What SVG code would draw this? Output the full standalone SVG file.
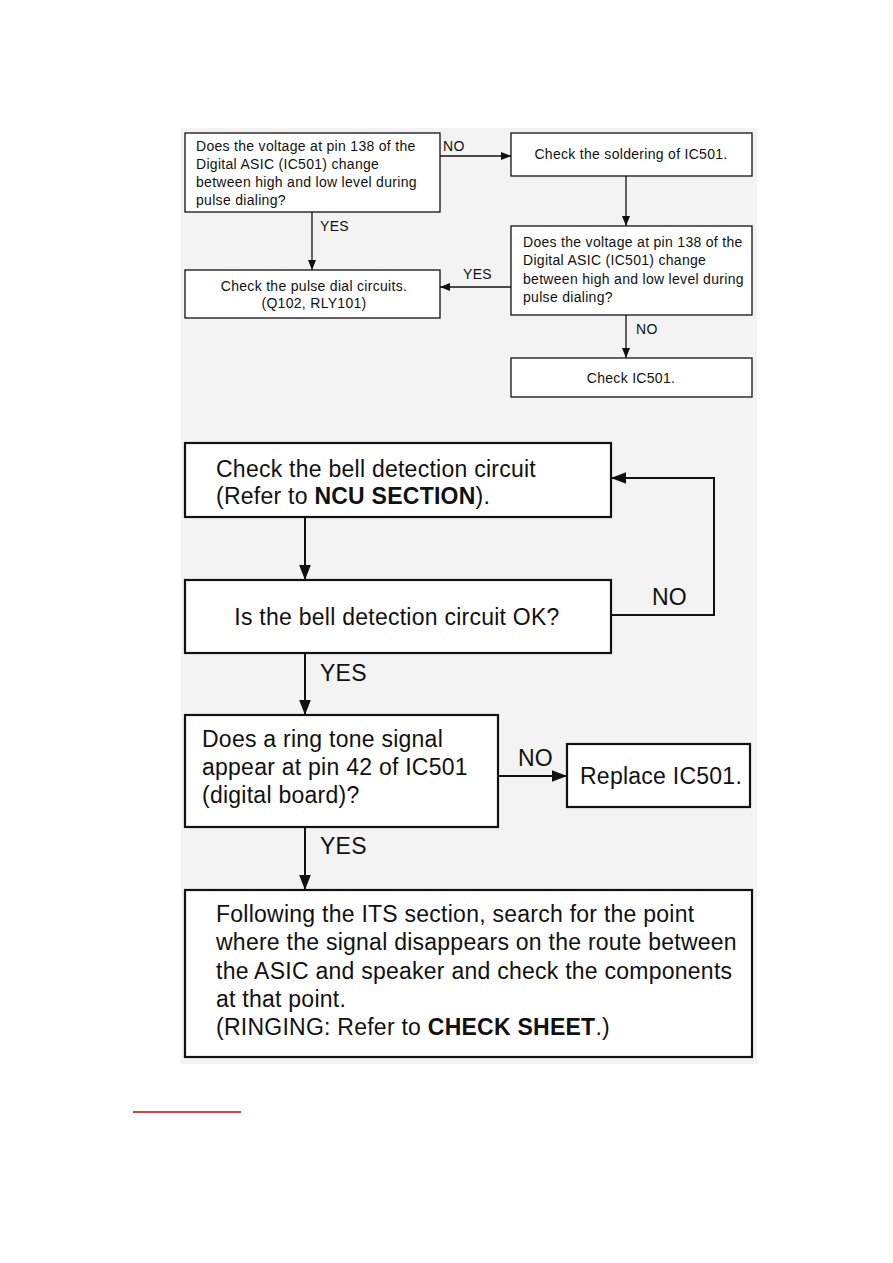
<svg xmlns="http://www.w3.org/2000/svg" width="893" height="1263" viewBox="0 0 893 1263">
<defs>
<style>
.bg{fill:#f3f3f3}
.s{fill:#fff;stroke:#111;stroke-width:1.3}
.b{fill:#fff;stroke:#111;stroke-width:2.2}
.t{font-family:"Liberation Sans",Arial,sans-serif;font-size:14px;letter-spacing:0.3px;fill:#111}
.T{font-family:"Liberation Sans",Arial,sans-serif;font-size:23px;letter-spacing:0.25px;fill:#111}
.c{fill:none;stroke:#111;stroke-width:1.3}
.C{fill:none;stroke:#111;stroke-width:2}
.bold{font-weight:bold}
</style>
<marker id="a" viewBox="0 0 10 10" refX="10" refY="5" markerWidth="10" markerHeight="10" markerUnits="userSpaceOnUse" orient="auto"><path d="M0,1 L10,5 L0,9 Z" fill="#111"/></marker>
<marker id="A" viewBox="0 0 10 10" refX="10" refY="5" markerWidth="15" markerHeight="13" markerUnits="userSpaceOnUse" orient="auto" preserveAspectRatio="none"><path d="M0,0.5 L10,5 L0,9.5 Z" fill="#111"/></marker>
</defs>
<rect class="bg" x="181" y="128" width="576" height="936"/>
<g id="connectors">
<path class="c" d="M440,156 H511" marker-end="url(#a)"/>
<text class="t" x="443" y="151">NO</text>
<path class="c" d="M626,176 V226" marker-end="url(#a)"/>
<path class="c" d="M312,212 V270" marker-end="url(#a)"/>
<text class="t" x="320" y="231">YES</text>
<path class="c" d="M511,287 H440" marker-end="url(#a)"/>
<text class="t" x="463" y="279">YES</text>
<path class="c" d="M626,315 V358" marker-end="url(#a)"/>
<text class="t" x="636" y="334">NO</text>
<path class="C" d="M305,517 V580" marker-end="url(#A)"/>
<path class="C" d="M611,615 H714 V478 H611" marker-end="url(#A)"/>
<text class="T" x="652" y="605">NO</text>
<path class="C" d="M305,653 V715" marker-end="url(#A)"/>
<text class="T" x="320" y="681">YES</text>
<path class="C" d="M498,776 H567" marker-end="url(#A)"/>
<text class="T" x="518" y="766">NO</text>
<path class="C" d="M305,827 V890" marker-end="url(#A)"/>
<text class="T" x="320" y="854">YES</text>
</g>
<g id="n1">
<rect class="s" x="185" y="133" width="255" height="79"/>
<text class="t" x="196" y="151">Does the voltage at pin 138 of the</text>
<text class="t" x="196" y="169">Digital ASIC (IC501) change</text>
<text class="t" x="196" y="187">between high and low level during</text>
<text class="t" x="196" y="205">pulse dialing?</text>
</g>
<g id="n2">
<rect class="s" x="511" y="133" width="241" height="43"/>
<text class="t" x="631" y="159" text-anchor="middle">Check the soldering of IC501.</text>
</g>
<g id="n3">
<rect class="s" x="511" y="226" width="241" height="89"/>
<text class="t" x="523" y="247">Does the voltage at pin 138 of the</text>
<text class="t" x="523" y="265">Digital ASIC (IC501) change</text>
<text class="t" x="523" y="284">between high and low level during</text>
<text class="t" x="523" y="302">pulse dialing?</text>
</g>
<g id="n4">
<rect class="s" x="185" y="270" width="255" height="48"/>
<text class="t" x="314" y="291" text-anchor="middle">Check the pulse dial circuits.</text>
<text class="t" x="314" y="308" text-anchor="middle">(Q102, RLY101)</text>
</g>
<g id="n5">
<rect class="s" x="511" y="358" width="241" height="39"/>
<text class="t" x="631" y="383" text-anchor="middle">Check IC501.</text>
</g>
<g id="n6">
<rect class="b" x="185" y="443" width="426" height="74"/>
<text class="T" x="216" y="477">Check the bell detection circuit</text>
<text class="T" x="216" y="504">(Refer to <tspan class="bold">NCU SECTION</tspan>).</text>
</g>
<g id="n7">
<rect class="b" x="185" y="580" width="426" height="73"/>
<text class="T" x="397" y="625" text-anchor="middle">Is the bell detection circuit OK?</text>
</g>
<g id="n8">
<rect class="b" x="185" y="715" width="313" height="112"/>
<text class="T" x="202" y="747">Does a ring tone signal</text>
<text class="T" x="202" y="775">appear at pin 42 of IC501</text>
<text class="T" x="202" y="803">(digital board)?</text>
</g>
<g id="n9">
<rect class="b" x="567" y="744" width="183" height="63"/>
<text class="T" x="580" y="784">Replace IC501.</text>
</g>
<g id="n10">
<rect class="b" x="185" y="890" width="567" height="167"/>
<text class="T" x="216" y="922">Following the ITS section, search for the point</text>
<text class="T" x="216" y="950">where the signal disappears on the route between</text>
<text class="T" x="216" y="979">the ASIC and speaker and check the components</text>
<text class="T" x="216" y="1007">at that point.</text>
<text class="T" x="216" y="1035">(RINGING: Refer to <tspan class="bold">CHECK SHEET</tspan>.)</text>
</g>
<line x1="133" y1="1112" x2="241" y2="1112" stroke="#cc0000" stroke-width="1.5"/>
</svg>
